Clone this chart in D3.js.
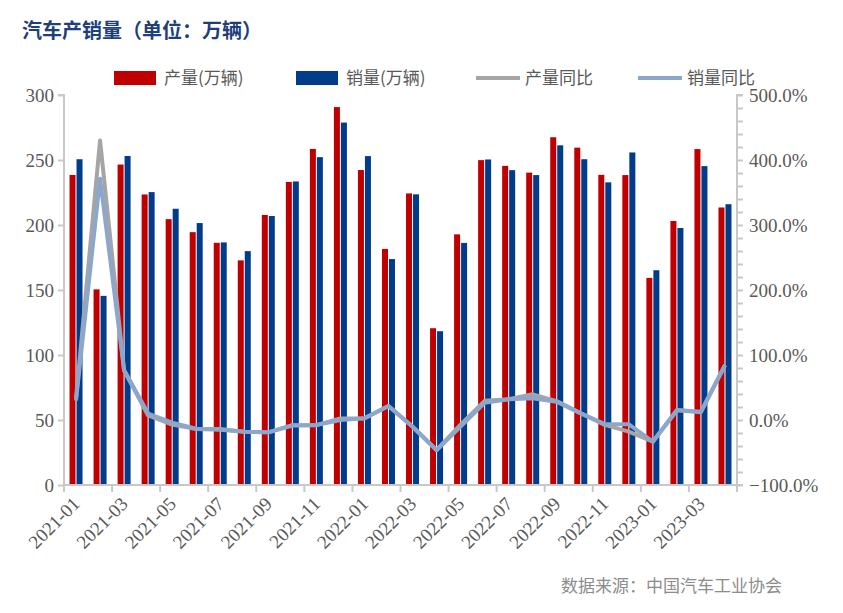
<!DOCTYPE html>
<html><head><meta charset="utf-8">
<script src="https://cdn.jsdelivr.net/npm/d3@7"></script>
<style>
body{margin:0;background:#fff;}
svg{display:block;}
</style></head>
<body><svg id="c" width="843" height="613"></svg>
<script>
const months = ["2021-01","2021-02","2021-03","2021-04","2021-05","2021-06","2021-07","2021-08","2021-09","2021-10","2021-11","2021-12",
"2022-01","2022-02","2022-03","2022-04","2022-05","2022-06","2022-07","2022-08","2022-09","2022-10","2022-11","2022-12",
"2023-01","2023-02","2023-03","2023-04"];
const production = [238.5,150.5,246.5,223.5,204.5,194.5,186.3,172.8,207.7,233.1,258.5,290.7,242.3,181.6,224.3,120.6,192.8,249.9,245.5,240.3,267.5,259.5,238.6,238.4,159.3,203.1,258.4,213.5];
const sales = [250.6,145.5,253.1,225.3,212.5,201.5,186.6,179.9,206.9,233.5,252.2,278.8,253.0,173.8,223.6,118.3,186.2,250.4,242.2,238.4,261.3,250.6,232.8,255.8,165.2,197.7,245.3,216.0];
const prodYoY = [33,430,76,7,-7,-14,-15,-18,-19,-8,-8,2.5,2.5,21.5,-10,-46,-7,29.5,31.8,39.5,29,10.5,-7.5,-18,-33.5,15,12,84];
const salesYoY = [30,371,77,10,-4,-13.5,-13.8,-18,-19,-8.5,-7.7,0,2.6,21.5,-10.5,-46.5,-10,26.5,31.8,33.3,28.2,10.2,-6.2,-6.6,-33.4,15.4,12.8,84.6];
const leftTicks = [0,50,100,150,200,250,300];
const rightTicks = [-100,0,100,200,300,400,500];
const labelMonths = months.filter((d,i)=>i%2===0);

const svg = d3.select("#c");
const L = 64, R = 737, T = 95, B = 485;
const x = d3.scaleBand().domain(months).range([L,R]).padding(0);
const y = d3.scaleLinear().domain([0,300]).range([B,T]);
const y2 = d3.scaleLinear().domain([-100,500]).range([B,T]);
const axisColor = "#C8C8C8";
const textColor = "#595959";
const SERIF = "'Liberation Serif', serif";
const CJK = "'Noto Sans CJK SC', sans-serif";

svg.append("text").style("font-family",CJK).attr("x",22).attr("y",38).attr("font-weight","bold")
  .attr("font-size",20).attr("fill","#1F3F7A").text("汽车产销量（单位：万辆）");

const bw = 6;
svg.append("g").selectAll("rect").data(months).join("rect")
  .attr("x",d=>x(d)+x.bandwidth()/2-bw-0.5).attr("width",bw)
  .attr("y",(d,i)=>y(production[i])).attr("height",(d,i)=>B-y(production[i]))
  .attr("fill","#C00000");
svg.append("g").selectAll("rect").data(months).join("rect")
  .attr("x",d=>x(d)+x.bandwidth()/2+0.5).attr("width",bw)
  .attr("y",(d,i)=>y(sales[i])).attr("height",(d,i)=>B-y(sales[i]))
  .attr("fill","#003C8A");

const line = arr => d3.line().x((d,i)=>x(months[i])+x.bandwidth()/2).y(d=>y2(d))(arr);
svg.append("path").attr("d",line(prodYoY)).attr("fill","none").attr("stroke","#A5A5A5").attr("stroke-width",4).attr("stroke-linejoin","round");
svg.append("path").attr("d",line(salesYoY)).attr("fill","none").attr("stroke","#8DA6CC").attr("stroke-width",4).attr("stroke-linejoin","round");

const gl = svg.append("g").attr("transform",`translate(${L},0)`)
  .call(d3.axisLeft(y).tickValues(leftTicks).tickSize(6).tickPadding(4).tickFormat(d3.format("d")));
gl.attr("font-family",null).attr("font-size",null);
gl.select(".domain").attr("stroke",axisColor).attr("stroke-width",2).attr("d",`M-6,${T}H0V${B}`);
gl.selectAll(".tick line").attr("stroke",axisColor).attr("stroke-width",2);
gl.selectAll(".tick text").style("font-family",SERIF).style("font-size","19px").attr("fill",textColor);

const gr = svg.append("g").attr("transform",`translate(${R},0)`)
  .call(d3.axisRight(y2).tickValues(d3.range(-100,501,20)).tickSize(6).tickPadding(6)
    .tickFormat(d=>rightTicks.includes(d)?d3.format(".1f")(d)+"%":""));
gr.attr("font-family",null).attr("font-size",null);
gr.select(".domain").attr("stroke",axisColor).attr("stroke-width",2).attr("d",`M6,${T}H0V${B}H6`);
gr.selectAll(".tick line").attr("stroke",axisColor).attr("stroke-width",2);
gr.selectAll(".tick text").style("font-family",SERIF).style("font-size","19px").attr("fill",textColor);

const bx = svg.append("g").attr("transform",`translate(0,${B})`);
bx.append("line").attr("x1",L).attr("x2",R).attr("stroke",axisColor).attr("stroke-width",2);
bx.selectAll("line.t").data(labelMonths).join("line").attr("class","t")
  .attr("x1",d=>x(d)).attr("x2",d=>x(d)).attr("y1",0).attr("y2",7)
  .attr("stroke",axisColor).attr("stroke-width",2);
bx.append("line").attr("x1",R).attr("x2",R).attr("y1",0).attr("y2",7).attr("stroke",axisColor).attr("stroke-width",2);
bx.selectAll("text").data(labelMonths).join("text").style("font-family",SERIF).style("font-size","19px")
  .attr("transform",d=>`translate(${x(d)+x.bandwidth()/2+5},${20}) rotate(-45)`)
  .attr("text-anchor","end").attr("fill",textColor)
  .text(d=>d);

const legend = [
  {name:"产量(万辆)", type:"rect", color:"#C00000", x:114},
  {name:"销量(万辆)", type:"rect", color:"#003C8A", x:296},
  {name:"产量同比", type:"line", color:"#A5A5A5", x:476},
  {name:"销量同比", type:"line", color:"#8DA6CC", x:638}
];
const lg = svg.append("g");
legend.forEach(d=>{
  if(d.type==="rect") lg.append("rect").attr("x",d.x).attr("y",71).attr("width",42).attr("height",14).attr("fill",d.color);
  else lg.append("line").attr("x1",d.x).attr("x2",d.x+44).attr("y1",78).attr("y2",78).attr("stroke",d.color).attr("stroke-width",4);
  lg.append("text").style("font-family",CJK).attr("x",d.x+(d.type==="rect"?50:49)).attr("y",84)
    .attr("font-size",17).attr("fill",textColor).text(d.name);
});

svg.append("text").style("font-family",CJK).attr("x",782).attr("y",592).attr("text-anchor","end")
  .attr("font-size",17).attr("fill","#8C8C8C").text("数据来源：中国汽车工业协会");
</script></body></html>
